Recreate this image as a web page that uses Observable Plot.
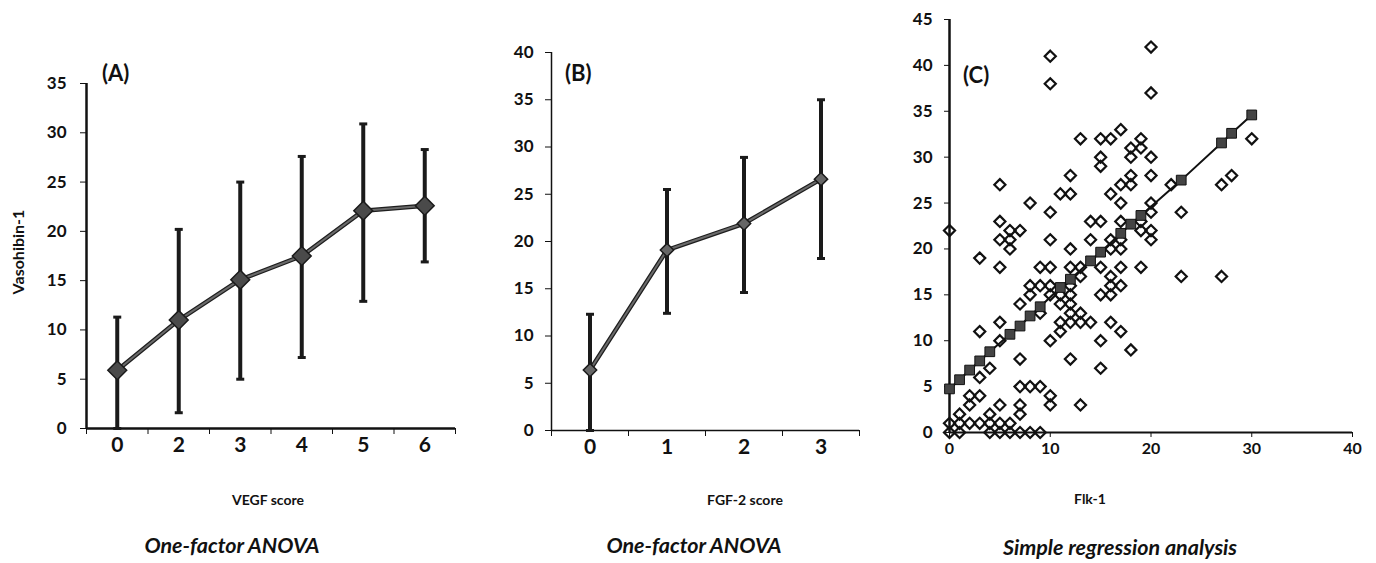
<!DOCTYPE html>
<html>
<head>
<meta charset="utf-8">
<script src="https://cdn.jsdelivr.net/npm/d3@7"></script>
<script src="https://cdn.jsdelivr.net/npm/@observablehq/plot@0.6"></script>
<style>
  body { margin: 0; background: #fff; }
  #fig { position: relative; width: 1376px; height: 563px; font-family: Lato, "Open Sans", sans-serif; color: #111; overflow: hidden; }
  .panel { position: absolute; top: 0; }
  .lbl { position: absolute; white-space: nowrap; transform: translate(-50%, -50%); }
  .axis-title { font-size: 14px; font-weight: bold; }
  .method { font-size: 21.5px; font-weight: bold; font-style: italic; }
  .tag { position: absolute; font-size: 22px; font-weight: bold; transform: translateY(-50%); }
</style>
</head>
<body>
<div id="fig"></div>
<script>
// (A) Vasohibin-1 by VEGF score: mean with error range
const vegfScores = ["0", "2", "3", "4", "5", "6"];
const vegfMean = [5.9, 11.0, 15.1, 17.5, 22.1, 22.6];
const vegfLow = [0, 1.6, 5.0, 7.2, 12.9, 16.9];
const vegfHigh = [11.3, 20.2, 25.0, 27.6, 30.9, 28.3];

// (B) Vasohibin-1 by FGF-2 score
const fgfScores = ["0", "1", "2", "3"];
const fgfMean = [6.4, 19.1, 21.9, 26.6];
const fgfLow = [0, 12.4, 14.6, 18.2];
const fgfHigh = [12.3, 25.5, 28.9, 35.0];

// (C) Flk-1 vs Vasohibin-1, individual cases
const flkValues = [
  0, 0, 0,
  1, 1, 1,
  2, 2, 2,
  3, 3, 3, 3, 3,
  4, 4, 4, 4,
  5, 5, 5, 5, 5, 5, 5, 5, 5,
  6, 6, 6, 6, 6,
  7, 7, 7, 7, 7, 7, 7,
  8, 8, 8, 8, 8,
  9, 9, 9, 9, 9,
  10, 10, 10, 10, 10, 10, 10, 10, 10, 10,
  11, 11, 11, 11, 11,
  12, 12, 12, 12, 12, 12, 12, 12, 12, 12,
  13, 13, 13, 13, 13, 13,
  14, 14, 14,
  15, 15, 15, 15, 15, 15, 15, 15,
  16, 16, 16, 16, 16, 16, 16, 16,
  17, 17, 17, 17, 17, 17, 17, 17, 17,
  18, 18, 18, 18, 18,
  19, 19, 19, 19, 19,
  20, 20, 20, 20, 20, 20, 20, 20,
  22,
  23, 23,
  27, 27,
  28,
  30
];
const vasohibinValues = [
  22, 1, 0,
  2, 1, 0,
  4, 3, 1,
  19, 11, 6, 4, 1,
  7, 2, 1, 0,
  27, 23, 21, 18, 12, 10, 3, 1, 0,
  22, 21, 20, 1, 0,
  22, 14, 8, 5, 3, 2, 0,
  25, 16, 15, 5, 0,
  18, 16, 13, 5, 0,
  41, 38, 24, 21, 18, 16, 15, 10, 4, 3,
  26, 15, 14, 12, 11,
  28, 26, 20, 18, 16, 15, 14, 13, 12, 8,
  32, 18, 17, 13, 12, 3,
  23, 21, 12,
  32, 30, 29, 23, 18, 15, 10, 7,
  32, 26, 21, 20, 17, 16, 15, 12,
  33, 27, 25, 23, 21, 20, 18, 16, 11,
  31, 30, 28, 27, 9,
  32, 31, 23, 22, 18,
  42, 37, 30, 28, 25, 24, 22, 21,
  27,
  24, 17,
  27, 17,
  28,
  32
];

// fitted values of the simple regression
const fitFlk = [0, 1, 2, 3, 4, 6, 7, 8, 9, 11, 12, 14, 15, 17, 18, 19, 23, 27, 28, 30];
const fitVasohibin = [4.75, 5.75, 6.8, 7.8, 8.8, 10.7, 11.6, 12.7, 13.7, 15.8, 16.7, 18.7, 19.65, 21.7, 22.7, 23.65, 27.5, 31.55, 32.6, 34.6];

const fig = document.getElementById("fig");

// short horizontal cap for the error bars
const cap = {
  draw(context) {
    context.moveTo(-4, -1.5);
    context.lineTo(4, -1.5);
    context.lineTo(4, 1.5);
    context.lineTo(-4, 1.5);
    context.closePath();
  }
};

function place(svg, left) {
  const wrap = document.createElement("div");
  wrap.className = "panel";
  wrap.style.left = left + "px";
  wrap.appendChild(svg);
  fig.appendChild(wrap);
}

function anovaPanel({scores, mean, low, high, yMax, width, marginLeft, marginTop, marginBottom, axisWidth, tickPadding, dotR, dotFill, dotStroke}) {
  const rows = scores.map((s, i) => ({pos: i + 0.5, score: s, mean: mean[i], low: low[i], high: high[i]}));
  const n = scores.length;
  return Plot.plot({
    width,
    height: 470,
    marginLeft,
    marginRight: 15,
    marginTop,
    marginBottom,
    style: {fontFamily: "Lato, 'Open Sans', sans-serif", fontWeight: "bold", color: "#111", background: "transparent", overflow: "visible"},
    x: {domain: [0, n], axis: null},
    y: {domain: [0, yMax], axis: null},
    marks: [
      Plot.axisY({ticks: d3.range(0, yMax + 1, 5), tickSize: 6, tickPadding, fontSize: 17, tickFormat: d => d, label: null}),
      Plot.axisX({ticks: d3.range(0, n + 1), tickSize: 6, tickFormat: () => "", label: null}),
      Plot.axisX({ticks: rows.map(d => d.pos), tickSize: 0, tickPadding: 9, fontSize: 21, tickFormat: d => scores[Math.round(d - 0.5)], label: null}),
      Plot.ruleX([0], {stroke: "#111", strokeWidth: axisWidth}),
      Plot.ruleY([0], {stroke: "#111", strokeWidth: axisWidth}),
      Plot.ruleX(rows, {x: "pos", y1: "low", y2: "high", stroke: "#1a1a1a", strokeWidth: 4}),
      Plot.dot(rows, {x: "pos", y: "low", symbol: cap, fill: "#1a1a1a", stroke: "none"}),
      Plot.dot(rows, {x: "pos", y: "high", symbol: cap, fill: "#1a1a1a", stroke: "none"}),
      Plot.line(rows, {x: "pos", y: "mean", stroke: "#1e1e1e", strokeWidth: 4.5}),
      Plot.line(rows, {x: "pos", y: "mean", stroke: "#6a6a6a", strokeWidth: 2}),
      Plot.dot(rows, {x: "pos", y: "mean", symbol: "diamond2", r: dotR, fill: dotFill, stroke: dotStroke, strokeWidth: 1.5})
    ]
  });
}

// (A): plot area 86..455 x 83..428
place(anovaPanel({
  scores: vegfScores, mean: vegfMean, low: vegfLow, high: vegfHigh, yMax: 35,
  width: 470, marginLeft: 86, marginTop: 83, marginBottom: 42, axisWidth: 2.5, tickPadding: 14,
  dotR: 8.5, dotFill: "#4a4a4a", dotStroke: "#1a1a1a"
}), 0);

// (B): plot area 551..859 x 52..430
place(anovaPanel({
  scores: fgfScores, mean: fgfMean, low: fgfLow, high: fgfHigh, yMax: 40,
  width: 414, marginLeft: 91, marginTop: 52, marginBottom: 40, axisWidth: 1.5, tickPadding: 12,
  dotR: 6, dotFill: "#666", dotStroke: "#1a1a1a"
}), 460);

// (C): scatter with regression line, plot area 949..1352 x 19..432
const cases = flkValues.map((v, i) => ({flk: v, vaso: vasohibinValues[i]}));
const fit = fitFlk.map((v, i) => ({flk: v, vaso: fitVasohibin[i]}));
place(Plot.plot({
  width: 478,
  height: 470,
  marginLeft: 59,
  marginRight: 16,
  marginTop: 19,
  marginBottom: 38,
  style: {fontFamily: "Lato, 'Open Sans', sans-serif", fontWeight: "bold", color: "#111", background: "transparent", overflow: "visible"},
  x: {domain: [0, 40], axis: null},
  y: {domain: [0, 45], axis: null},
  marks: [
    Plot.axisY({ticks: d3.range(0, 46, 5), tickSize: 5, tickPadding: 12, fontSize: 17, label: null}),
    Plot.axisX({ticks: d3.range(0, 41, 10), tickSize: 5, tickPadding: 5, fontSize: 16, label: null}),
    Plot.ruleX([0], {stroke: "#111", strokeWidth: 2.5}),
    Plot.ruleY([0], {stroke: "#111", strokeWidth: 2}),
    Plot.dot(cases, {x: "flk", y: "vaso", symbol: "diamond2", r: 5, fill: "none", stroke: "#111", strokeWidth: 2.2}),
    Plot.line(fit, {x: "flk", y: "vaso", stroke: "#111", strokeWidth: 2}),
    Plot.dot(fit, {x: "flk", y: "vaso", symbol: "square", r: 5.5, fill: "#444", stroke: "#111", strokeWidth: 1})
  ]
}), 890);

// panel tags, axis titles and analysis captions
function label(text, cls, x, y) {
  const el = document.createElement("div");
  el.className = cls;
  el.textContent = text;
  el.style.left = x + "px";
  el.style.top = y + "px";
  fig.appendChild(el);
  return el;
}
label("(A)", "tag", 102, 72);
label("(B)", "tag", 565, 72);
label("(C)", "tag", 963, 74);
const yTitle = label("Vasohibin-1", "lbl axis-title", 17, 252);
yTitle.style.transform = "translate(-50%, -50%) rotate(-90deg)";
yTitle.style.fontSize = "16px";
label("VEGF score", "lbl axis-title", 268, 499);
label("FGF-2 score", "lbl axis-title", 745, 499);
label("Flk-1", "lbl axis-title", 1090, 498);
label("One-factor ANOVA", "lbl method", 232, 545);
label("One-factor ANOVA", "lbl method", 694, 545);
label("Simple regression analysis", "lbl method", 1120, 547);
</script>
</body>
</html>
